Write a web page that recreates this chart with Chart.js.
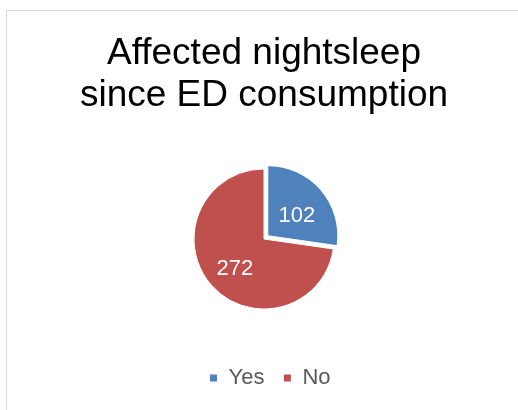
<!DOCTYPE html>
<html>
<head>
<meta charset="utf-8">
<script src="https://cdn.jsdelivr.net/npm/chart.js@4.4.1/dist/chart.umd.min.js"></script>
<style>
	html, body { margin: 0; padding: 0; background: #fff; overflow: hidden; }
	#frame {
		position: absolute;
		left: 6px;
		top: 10px;
		width: 514px;
		height: 400px;
		border: 1px solid #d9d9d9;
	}
</style>
</head>
<body>
<div id="frame"><canvas id="chart0" width="514" height="400"></canvas></div>
<script>
const titleLines = ["Affected nightsleep", "since ED consumption"];
const answers = ["Yes", "No"];
const counts = [102, 272];
const sliceColors = ["#4f81bd", "#c0504d"];

// writes each value inside its slice, about half way out
const sliceValues = {
	id: "sliceValues",
	afterDatasetsDraw(chart) {
		const ctx = chart.ctx;
		const meta = chart.getDatasetMeta(0);
		ctx.save();
		ctx.fillStyle = "#ffffff";
		ctx.font = "22px 'Liberation Sans', Arial, sans-serif";
		ctx.textAlign = "center";
		ctx.textBaseline = "middle";
		meta.data.forEach((arc, i) => {
			const p = arc.getProps(["x", "y", "startAngle", "endAngle", "outerRadius"], true);
			const mid = (p.startAngle + p.endAngle) / 2;
			const shift = (arc.options.offset || 0) / 4;
			const r = p.outerRadius * 0.55 + shift;
			ctx.fillText(String(counts[i]), p.x + Math.cos(mid) * r, p.y + Math.sin(mid) * r + 5);
		});
		ctx.restore();
	}
};

// the legend row sits a little right of the pie
const legendNudge = {
	id: "legendNudge",
	afterLayout(chart) {
		chart.legend.left += 6;
		chart.legend.right += 6;
	}
};

function plotChart() {
	var chart0 = new Chart("chart0", {
		type: "pie",
		data: {
			labels: answers,
			datasets: [
				{
					data: counts,
					backgroundColor: sliceColors,
					borderColor: "#ffffff",
					borderWidth: 1,
					offset: [20, 0],
					radius: 70
				}
			]
		},
		options: {
			responsive: false,
			animation: false,
			layout: { padding: { top: 0, bottom: 12 } },
			plugins: {
				title: {
					display: true,
					text: titleLines,
					color: "#000000",
					font: { family: "'Liberation Sans', Arial, sans-serif", size: 37, weight: "normal", lineHeight: 1.135 },
					padding: { top: 22, bottom: 13 }
				},
				legend: {
					position: "bottom",
					labels: {
						boxWidth: 8,
						boxHeight: 8,
						padding: 19,
						color: "#595959",
						font: { family: "'Liberation Sans', Arial, sans-serif", size: 22 }
					}
				},
				tooltip: { enabled: false }
			}
		},
		plugins: [sliceValues, legendNudge]
	});
}

plotChart();
</script>
</body>
</html>
